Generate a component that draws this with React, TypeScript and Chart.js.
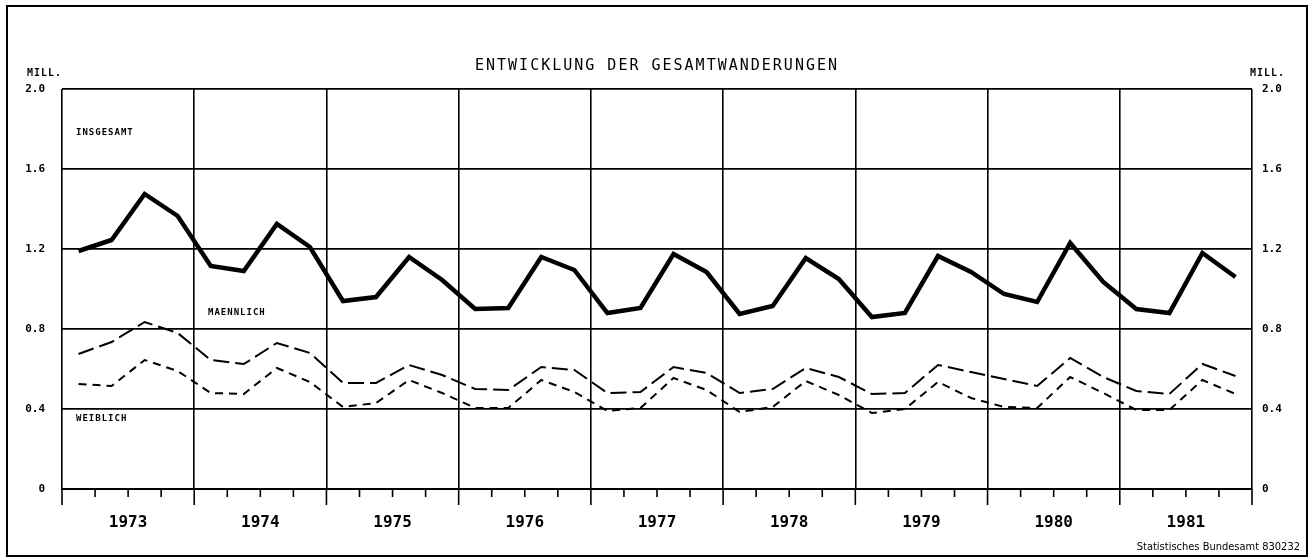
import { useEffect, useRef } from 'react';
import { Chart, registerables } from 'chart.js';

Chart.register(...registerables);

const years = ['1973', '1974', '1975', '1976', '1977', '1978', '1979', '1980', '1981'];
const yTickValues = [0, 0.4, 0.8, 1.2, 1.6, 2.0];

// quarterly values, million
const insgesamt = [
  1.19, 1.245, 1.475, 1.365,
  1.115, 1.09, 1.325, 1.21,
  0.94, 0.96, 1.16, 1.045,
  0.90, 0.905, 1.16, 1.095,
  0.88, 0.905, 1.175, 1.085,
  0.875, 0.915, 1.155, 1.05,
  0.86, 0.88, 1.165, 1.085,
  0.975, 0.935, 1.23, 1.035,
  0.90, 0.88, 1.18, 1.06,
];
const maennlich = [
  0.675, 0.735, 0.835, 0.78,
  0.645, 0.625, 0.73, 0.68,
  0.53, 0.53, 0.62, 0.57,
  0.50, 0.495, 0.61, 0.595,
  0.48, 0.485, 0.61, 0.58,
  0.48, 0.50, 0.605, 0.56,
  0.475, 0.48, 0.62, 0.585,
  0.55, 0.515, 0.655, 0.56,
  0.49, 0.475, 0.625, 0.565,
];
const weiblich = [
  0.525, 0.515, 0.645, 0.59,
  0.48, 0.475, 0.605, 0.535,
  0.41, 0.43, 0.545, 0.48,
  0.405, 0.405, 0.545, 0.485,
  0.39, 0.405, 0.555, 0.495,
  0.385, 0.41, 0.54, 0.47,
  0.38, 0.40, 0.535, 0.455,
  0.41, 0.405, 0.56, 0.48,
  0.395, 0.395, 0.545, 0.475,
];

const title = 'ENTWICKLUNG DER GESAMTWANDERUNGEN';
const unitLabel = 'MILL.';
const seriesLabels = { total: 'INSGESAMT', male: 'MAENNLICH', female: 'WEIBLICH' };
const footer = 'Statistisches Bundesamt 830232';

const MONO = '"DejaVu Sans Mono", monospace';
const INK = '#000';

export default function App() {
  const ref = useRef<HTMLCanvasElement>(null);

  useEffect(() => {
    const canvas = ref.current;
    if (!canvas) return;
    const pts = (arr: number[]) => arr.map((v, i) => ({ x: i + 0.5, y: v }));

    const decor = {
      id: 'decor',
      beforeDraw(chart: any) {
        const { ctx, width, height } = chart;
        ctx.save();
        ctx.fillStyle = '#fff';
        ctx.fillRect(0, 0, width, height);
        ctx.restore();
      },
      afterDraw(chart: any) {
        const { ctx, chartArea, scales } = chart;
        const xs = scales.x;
        const ys = scales.y;
        ctx.save();
        // quarter / year ticks below the axis
        ctx.strokeStyle = INK;
        ctx.lineWidth = 1.6;
        for (let q = 0; q <= years.length * 4; q++) {
          const px = xs.getPixelForValue(q);
          const len = q % 4 === 0 ? 16 : 8;
          ctx.beginPath();
          ctx.moveTo(px, chartArea.bottom);
          ctx.lineTo(px, chartArea.bottom + len);
          ctx.stroke();
        }
        // title
        ctx.fillStyle = INK;
        ctx.textBaseline = 'middle';
        ctx.textAlign = 'center';
        ctx.font = `15px ${MONO}`;
        (ctx as any).letterSpacing = '2px';
        ctx.fillText(title, (chartArea.left + chartArea.right) / 2, 66);
        // unit labels
        ctx.font = `bold 10px ${MONO}`;
        (ctx as any).letterSpacing = '1px';
        ctx.textAlign = 'left';
        ctx.fillText(unitLabel, 27, 73);
        ctx.fillText(unitLabel, 1250, 73);
        // series labels
        ctx.font = `bold 9px ${MONO}`;
        ctx.fillText(seriesLabels.total, 76, ys.getPixelForValue(1.78));
        ctx.fillText(seriesLabels.male, 208, ys.getPixelForValue(0.88));
        ctx.fillText(seriesLabels.female, 76, ys.getPixelForValue(0.35));
        // footer
        (ctx as any).letterSpacing = '0px';
        ctx.textAlign = 'right';
        ctx.font = `11px "Liberation Sans Narrow", "DejaVu Sans Condensed", sans-serif`;
        ctx.fillText(footer, 1300, 547);
        // outer frame
        ctx.lineWidth = 2;
        ctx.strokeRect(7, 6, 1300, 550);
        ctx.restore();
      },
    };

    const yTickCb = (v: any) => (Number(v) === 0 ? '0' : Number(v).toFixed(1));

    const chart = new Chart(canvas, {
      type: 'line',
      data: {
        datasets: [
          {
            label: seriesLabels.total,
            data: pts(insgesamt),
            borderColor: INK,
            borderWidth: 4.5,
            pointRadius: 0,
            tension: 0,
            borderJoinStyle: 'miter',
          },
          {
            label: seriesLabels.male,
            data: pts(maennlich),
            borderColor: INK,
            borderWidth: 2,
            borderDash: [16, 6],
            pointRadius: 0,
            tension: 0,
          },
          {
            label: seriesLabels.female,
            data: pts(weiblich),
            borderColor: INK,
            borderWidth: 2,
            borderDash: [8, 6],
            pointRadius: 0,
            tension: 0,
          },
        ],
      },
      options: {
        animation: false,
        responsive: false,
        maintainAspectRatio: false,
        layout: { padding: { top: 89, left: 0, right: 0, bottom: 0 } },
        plugins: {
          legend: { display: false },
          tooltip: { enabled: false },
          title: { display: false },
        },
        scales: {
          x: {
            type: 'linear',
            min: 0,
            max: years.length * 4,
            afterBuildTicks: (s: any) => {
              s.ticks = Array.from({ length: years.length * 4 + 1 }, (_, i) => ({ value: i }));
            },
            afterFit: (s: any) => {
              s.height = 70;
            },
            ticks: {
              autoSkip: false,
              maxRotation: 0,
              padding: 24,
              color: INK,
              font: { family: MONO, size: 16, weight: 'bold' },
              callback: (v: any) => {
                const n = Number(v);
                return n % 4 === 2 ? years[(n - 2) / 4] : '';
              },
            },
            grid: {
              drawTicks: false,
              lineWidth: 1.6,
              color: (c: any) => (c.tick && c.tick.value % 4 === 0 ? INK : 'rgba(0,0,0,0)'),
            },
            border: { display: true, color: INK, width: 2 },
          },
          y: {
            type: 'linear',
            position: 'left',
            min: 0,
            max: 2.0,
            afterBuildTicks: (s: any) => {
              s.ticks = yTickValues.map((v) => ({ value: v }));
            },
            afterFit: (s: any) => {
              s.width = 62;
            },
            ticks: {
              padding: 17,
              color: INK,
              font: { family: MONO, size: 11, weight: 'bold' },
              callback: yTickCb,
            },
            grid: { drawTicks: false, lineWidth: 1.8, color: INK },
            border: { display: false },
          },
          y2: {
            type: 'linear',
            position: 'right',
            min: 0,
            max: 2.0,
            afterBuildTicks: (s: any) => {
              s.ticks = yTickValues.map((v) => ({ value: v }));
            },
            afterFit: (s: any) => {
              s.width = 62;
            },
            ticks: {
              padding: 10,
              color: INK,
              font: { family: MONO, size: 11, weight: 'bold' },
              callback: yTickCb,
            },
            grid: { display: false, drawTicks: false },
            border: { display: false },
          },
        },
      },
      plugins: [decor],
    } as any);

    return () => chart.destroy();
  }, []);

  return (
    <div style={{ position: 'fixed', left: 0, top: 0, width: 1314, height: 559, background: '#fff' }}>
      <canvas ref={ref} width={1314} height={559} style={{ display: 'block', width: 1314, height: 559 }} />
    </div>
  );
}
